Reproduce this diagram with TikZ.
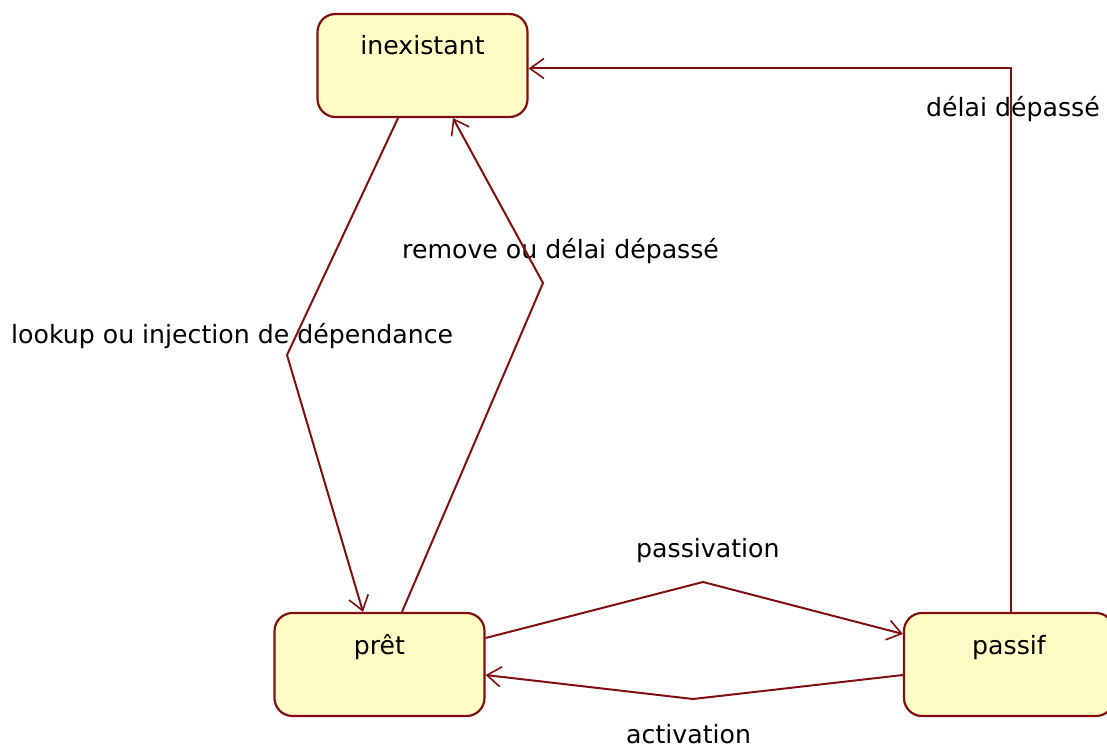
\documentclass[tikz,border=0pt]{standalone}
\usepackage{fontspec}
\setmainfont{DejaVu Sans}
\usetikzlibrary{arrows.meta}

\definecolor{edgered}{RGB}{128,16,16}
\definecolor{stateyellow}{RGB}{255,252,198}

\tikzset{
  state/.style={draw=edgered, fill=stateyellow, line width=2.2pt, rounded corners=18pt,
    minimum width=210pt, inner xsep=0pt, inner ysep=0pt, text height=41pt, text depth=62pt},
  trans/.style={draw=edgered, line width=2pt,
    -{Straight Barb[length=14pt,width=20pt,line width=1.6pt]}},
  lbl/.style={anchor=base west, inner sep=0pt}
}

\begin{document}
\begin{tikzpicture}[x=1pt,y=-1pt, every node/.style={font=\fontsize{25.2}{30}\selectfont}]
        \useasboundingbox (0,0) rectangle (1107,749);

        % states
        \node[state] (inex) at (422.5,65.5) {inexistant};
        \node[state] (pret) at (379.5,664.5) {prêt};
        \node[state] (pass) at (1009,664.5) {passif};

        % labels
        \node[lbl] (llookup) at (11,343) {lookup ou injection de dépendance};
        \node[lbl] (lremove) at (402,258) {remove ou délai dépassé};
        \node[lbl] (lpassiv) at (636,557) {passivation};
        \node[lbl] (lactiv) at (626,743) {activation};
        \node[lbl] (ldelai) at (926,117) {délai dépassé};

        % bends
        \coordinate (klookup) at (287,355);
        \coordinate (kremove) at (543,283);
        \coordinate (kpassiv) at (703,582);
        \coordinate (kactiv) at (693,699);

        \draw[trans] ([xshift=-24.5pt]inex.south) -- (klookup) -- ([xshift=-16.5pt]pret.north);
        \draw[trans] ([xshift=22.5pt]pret.north) -- (kremove) -- ([xshift=30.5pt]inex.south);
        \draw[trans] ([yshift=26.5pt]pret.east) -- (kpassiv) -- ([yshift=30.5pt]pass.west);
        \draw[trans] ([yshift=-10.5pt]pass.west) -- (kactiv) -- ([yshift=-10.5pt]pret.east);
        \draw[trans] ([xshift=2pt]pass.north) |- ([yshift=-3pt]inex.east);
\end{tikzpicture}
\end{document}
